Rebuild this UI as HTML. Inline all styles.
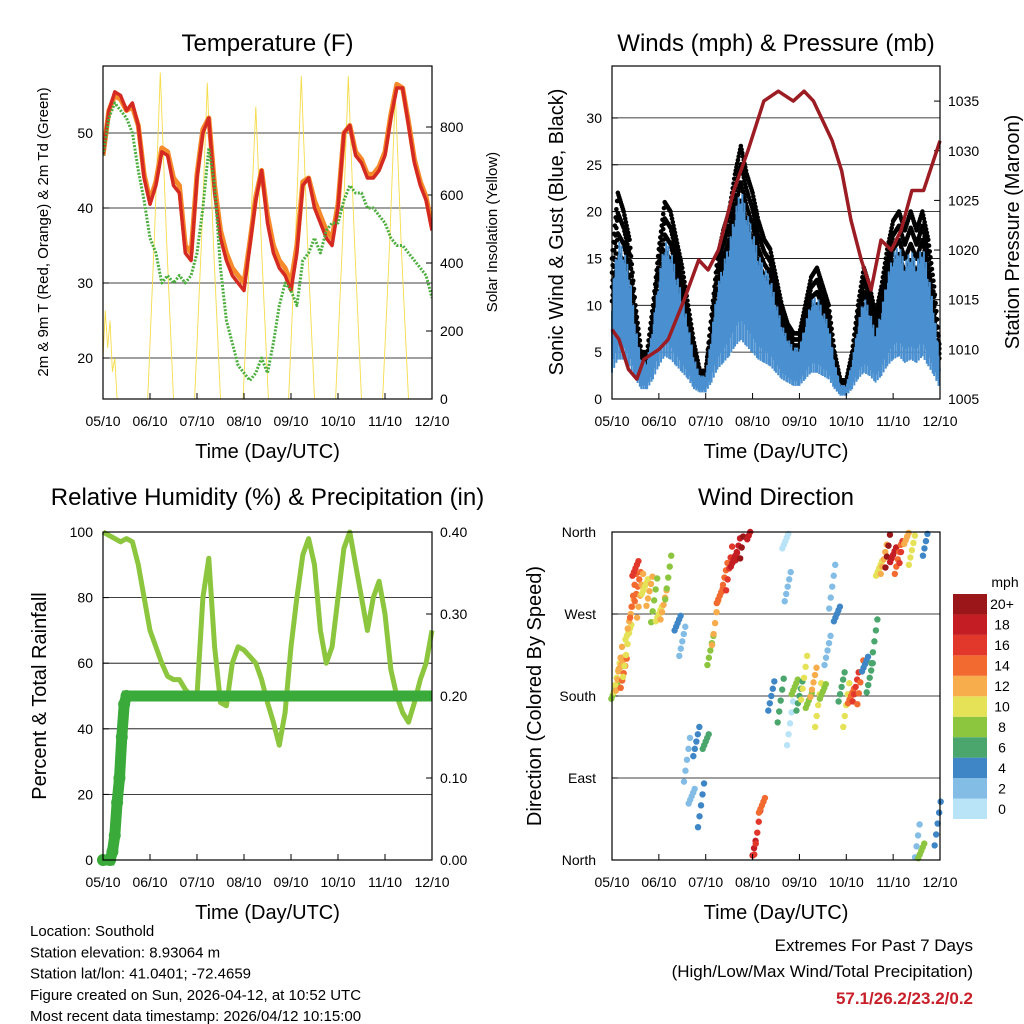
<!DOCTYPE html>
<html><head><meta charset="utf-8"><style>
html,body{margin:0;padding:0;background:#fff;}
svg{display:block;font-family:"Liberation Sans",sans-serif;}
</style></head><body>
<svg id="s" width="1024" height="1024" viewBox="0 0 1024 1024" xmlns="http://www.w3.org/2000/svg"></svg>
<script>
// ---------- DATA ----------
const dayLabels=["05/10","06/10","07/10","08/10","09/10","10/10","11/10","12/10"];
const temp2m=[47,53,55.5,55,53,54,51,44, 40.5,43,47.5,47,43,42,34,33, 44,50,52,42,36,33,31,30, 29,35,41,45,38,34,32,31, 29,34,43,44,40,38,36,35, 40,50,51,47,46,44,44,45, 47,52,56,56,51,46,43,41,37];
const temp9m=[47,53,55,54.5,53,53.5,51,44.5, 41,43.5,48,47.5,44,43,35,34, 44.5,50.5,52,43,37,34,32,31, 30,35.5,41.5,45,39,35,33,32, 30,35,43.5,44,41,39,37,36, 40.5,50,51,47.5,46.5,44.5,44.5,45.5, 47.5,52.5,56.5,56,51.5,46.5,43.5,41.5,37.5];
const dewpt=[47,52,54,53,52,50,45,41, 36,34,30,31,30,31,30,31, 34,40,48,43,32,25,22,19, 18,17,18,20,18,22,27,30, 29,27,33,34,36,34,37,38, 38,41,43,42,42,40,40,39, 38,36,35,35,34,33,32,31,28];
const solarTimes=[0,0.05,0.1,0.15,0.2,0.25,0.3, 0.95,1.1,1.22,1.35,1.5, 1.95,2.1,2.22,2.35,2.5, 2.98,3.12,3.25,3.38,3.52, 3.95,4.1,4.22,4.35,4.5, 4.95,5.1,5.22,5.35,5.5, 5.95,6.1,6.22,6.35,6.5, 7];
const solarVals=[120,260,150,230,80,120,0, 0,500,960,480,0, 0,480,930,460,0, 0,430,860,420,0, 0,490,950,470,0, 0,480,950,470,0, 0,460,900,440,0, 0];
const windMean=[8,12,12,10,6,3,3,6, 10,13,12,10,8,6,3,2, 2,5,9,11,13,16,18,16, 14,12,11,10,8,6,5,4, 4,6,8,8,7,6,3,1, 1,3,6,8,7,5,7,10, 12,13,11,12,11,13,10,7,3];
const windGust=[15,22,20,17,10,5,5,10, 16,21,20,17,14,10,6,3, 3,9,15,18,20,24,27,24, 22,19,17,16,13,10,8,7, 7,10,13,14,12,10,5,2, 2,5,10,14,12,9,12,16, 19,20,18,20,18,20,17,12,5];
const presTimes=[0,0.15,0.35,0.53,0.68,1.0,1.2,1.54,1.85,2.05,2.27,2.6,2.9,3.24,3.55,3.87,4.1,4.3,4.5,4.7,4.9,5.1,5.32,5.53,5.74,5.96,6.17,6.4,6.65,7];
const presVals=[1012,1011,1008,1007,1009,1010,1011,1015,1019,1018,1020,1026,1030,1035,1036,1035,1036,1035,1033,1031,1028,1023,1019,1016,1021,1020,1022,1026,1026,1031];
const rh=[100,99,98,97,98,97,90,80, 70,65,60,56,55,55,52,50, 50,80,92,65,48,47,60,65, 64,62,60,55,48,42,35,45, 65,80,93,98,90,70,60,65, 80,95,100,90,80,70,80,85, 75,58,50,45,42,48,55,60,70];
const precipTimes=[0,0.15,0.2,0.25,0.3,0.35,0.4,0.45,0.5,7];
const precipVals=[0,0,0.01,0.03,0.07,0.1,0.15,0.19,0.2,0.2];
const wdTime=[0.05,0.1,0.15,0.2,0.25,0.3,0.35,0.4,0.45,0.5,0.55,0.6,0.7,0.8,0.9,1.0,1.1,1.2,1.4,1.5,1.6,1.7,1.8,1.9,2.0,2.1,2.2,2.3,2.4,2.5,2.6,2.7,2.8,2.95,3.0,3.1,3.2,3.4,3.6,3.7,3.75,3.8,3.9,4.0,4.1,4.2,4.3,4.4,4.5,4.6,4.7,4.8,4.9,5.0,5.1,5.2,5.3,5.4,5.5,5.6,5.7,5.8,5.9,6.0,6.1,6.2,6.3,6.4,6.5,6.6,6.7,6.95];
const wdDir=[185,200,210,215,205,225,250,270,290,320,300,290,300,295,285,270,280,310,260,240,110,70,130,60,130,230,260,290,310,320,330,345,355,360,5,30,60,180,175,350,300,150,190,180,200,175,195,170,185,230,300,270,190,170,180,190,195,215,200,240,320,330,345,335,330,350,355,340,15,10,350,40];
const wdSpeed=[8,10,12,12,14,10,10,12,14,16,14,12,10,12,8,10,12,8,4,3,2,3,4,5,6,8,12,14,14,16,18,18,20,18,18,16,14,4,6,1,2,1,8,6,10,8,12,10,8,3,2,4,6,10,14,16,14,4,6,6,10,12,20,18,14,16,12,10,2,8,4,4];
const tempTicks=[20,30,40,50];
const solarTicks=[0,200,400,600,800];
const windTicks=[0,5,10,15,20,25,30];
const presTicks=[1005,1010,1015,1020,1025,1030,1035];
const rhTicks=[0,20,40,60,80,100];
const rainTicks=[0,0.1,0.2,0.3,0.4];
const dirTicks=[0,90,180,270,360];
const dirNames=["North","East","South","West","North"];
const cbLabels=["0","2","4","6","8","10","12","14","16","18","20+"];
const cbColors=["#b9e3f7","#83bde6","#3f86c6","#4aa66c","#8cc63f","#e6e257","#f8ad4d","#f26a2f","#e2382c","#c41e24","#9a1618"];

// ---------- HELPERS ----------
const S=document.getElementById('s');
const NS="http://www.w3.org/2000/svg";
function el(tag,at,p){const e=document.createElementNS(NS,tag);for(const k in at)e.setAttribute(k,at[k]);(p||S).appendChild(e);return e;}
function txt(x,y,s,size,anchor,p,extra){const t=el('text',Object.assign({x:x,y:y,'font-size':size,'text-anchor':anchor||'middle',fill:'#000'},extra||{}),p);t.textContent=s;return t;}
function times(n){const a=[];for(let i=0;i<n;i++)a.push(i*7/(n-1));return a;}
const T57=times(57);

function panel(name,x0,x1,y0,y1){
  const g=el('g',{});
  
  
  return {g:g,x0:x0,x1:x1,y0:y0,y1:y1,sx:d=>x0+(x1-x0)*d/7};
}
function frame(P){
  const r=el('rect',{x:P.x0,y:P.y0,width:P.x1-P.x0,height:P.y1-P.y0,fill:'none',stroke:'#000','stroke-width':1.2},P.g);
  
  
}
function xAxis(P){
  const g=el('g',{},P.g);
  
  
  dayLabels.forEach((l,i)=>{
    const x=P.sx(i);
    el('line',{x1:x,x2:x,y1:P.y1,y2:P.y1-6,stroke:'#000'},g);
    const t=txt(x,P.y1+27,l,14,'middle',g);
    
    
  });
  const tt=txt((P.x0+P.x1)/2,P.y1+59,"Time (Day/UTC)",20,'middle',g);
  
  
}
function yAxis(P,ticks,sy,fmt,side,grid,name){
  const g=el('g',{},P.g);
  
  
  ticks.forEach(v=>{
    const y=sy(v);
    if(grid && y>P.y0+2 && y<P.y1-2){el('line',{x1:P.x0,x2:P.x1,y1:y,y2:y,stroke:'#000','stroke-width':0.8},g);}
    if(side==='l'){el('line',{x1:P.x0,x2:P.x0+6,y1:y,y2:y,stroke:'#000'},g);}
    else{el('line',{x1:P.x1,x2:P.x1-6,y1:y,y2:y,stroke:'#000'},g);}
    const t=side==='l'?txt(P.x0-10,y+5,fmt(v),14,'end',g):txt(P.x1+8,y+5,fmt(v),14,'start',g);
    
    
  });
}
function vlabel(x,y,s,size,P,name){
  const t=txt(0,0,s,size,'middle',P.g,{transform:'translate('+x+','+y+') rotate(-90)'});
  
  
}
function title(P,s,off){
  const t=txt((P.x0+P.x1)/2,P.y0-off,s,24,'middle',P.g);
  
  
}
function path(P,xs,ys,sx,sy,attrs,name){
  let d='';xs.forEach((t,i)=>{d+=(i?'L':'M')+sx(t).toFixed(1)+','+sy(ys[i]).toFixed(1);});
  const p=el('path',Object.assign({d:d,fill:'none'},attrs),P.g);
  
  
  return p;
}

// ---------- TEMPERATURE ----------
(function(){
  const P=panel('temperature-panel',103,432,66,399);
  const sy=v=>133+(50-v)*7.5;
  const ss=v=>399-v*0.34;
  el('clipPath',{id:'c1'},P.g).appendChild(el('rect',{x:103,y:66,width:329,height:333}));
  yAxis(P,tempTicks,sy,v=>String(v),'l',true,'temperature-y-axis');
  yAxis(P,solarTicks,ss,v=>String(v),'r',false,'solar-y-axis');
  const gc=el('g',{'clip-path':'url(#c1)'},P.g);
  const Pc=Object.assign({},P,{g:gc});
  path(Pc,solarTimes,solarVals,P.sx,ss,{stroke:'#f5dc4a','stroke-width':0.9},'solar-insolation-line');
  path(Pc,T57,temp9m,P.sx,sy,{stroke:'#f68a2a','stroke-width':5,'stroke-linejoin':'round'},'temp-9m-line');
  path(Pc,T57,temp2m,P.sx,sy,{stroke:'#d42a22','stroke-width':3.5,'stroke-linejoin':'round'},'temp-2m-line');
  path(Pc,T57,dewpt,P.sx,sy,{stroke:'#4bae3c','stroke-width':3,'stroke-dasharray':'2 1.5','stroke-linejoin':'round'},'dewpoint-line');
  frame(P);xAxis(P);title(P,"Temperature (F)",15);
  vlabel(48,232,"2m & 9m T (Red, Orange) & 2m Td (Green)",15,P,'temperature-y-title');
  vlabel(497,232,"Solar Insolation (Yellow)",15,P,'solar-y-title');
})();

// ---------- WINDS ----------
(function(){
  const P=panel('winds-panel',612,940,66,399);
  const sy=v=>399-v*9.37;
  const sp=v=>399-(v-1005)*9.93;
  yAxis(P,windTicks,sy,v=>String(v),'l',true,'wind-y-axis');
  yAxis(P,presTicks,sp,v=>String(v),'r',false,'pressure-y-axis');
  const band=el('g',{},P.g);
  
  
  const blue=el('g',{},P.g);
  
  
  for(let i=0;i<T57.length-1;i++){
    for(let k=0;k<8;k++){
      const f=k/8, t=T57[i]+f*(T57[i+1]-T57[i]);
      const g=windGust[i]+f*(windGust[i+1]-windGust[i]);
      const m=windMean[i]+f*(windMean[i+1]-windMean[i]);
      for(let j=0;j<=3;j++){
        const v=m+(g-m)*(0.35+0.65*((j*3+k)%4)/3);
        el('circle',{cx:P.sx(t),cy:sy(v),r:2.3,fill:'#000'},band);
      }
      const lo=Math.max(0,m*(0.35+0.25*((k*5)%3)/2)), hi=m+(g-m)*(0.2+0.3*(k%3)/2);
      el('line',{x1:P.sx(t),x2:P.sx(t),y1:sy(lo),y2:sy(hi),stroke:'#4a90d0','stroke-width':2},blue);
    }
  }
  path(P,T57,windMean,P.sx,sy,{stroke:'#4a90d0','stroke-width':2,'stroke-linejoin':'round'},'sonic-wind-line');
  path(P,presTimes,presVals,P.sx,sp,{stroke:'#9b1c22','stroke-width':3.5,'stroke-linejoin':'round'},'pressure-line');
  frame(P);xAxis(P);title(P,"Winds (mph) & Pressure (mb)",15);
  vlabel(563,232,"Sonic Wind & Gust (Blue, Black)",20,P,'wind-y-title');
  vlabel(1019,232,"Station Pressure (Maroon)",20,P,'pressure-y-title');
})();

// ---------- RH ----------
(function(){
  const P=panel('humidity-panel',103,432,532,860);
  const sy=v=>860-v*3.28;
  const sr=v=>860-v*820;
  yAxis(P,rhTicks,sy,v=>String(v),'l',true,'rh-y-axis');
  yAxis(P,rainTicks,sr,v=>v.toFixed(2),'r',false,'rain-y-axis');
  path(P,T57,rh,P.sx,sy,{stroke:'#8cc63f','stroke-width':5,'stroke-linejoin':'round'},'humidity-line');
  path(P,precipTimes,precipVals,P.sx,sr,{stroke:'#3aaa3a','stroke-width':11},'precip-line');
  const dots=el('g',{},P.g);
  
  
  precipTimes.slice(0,9).forEach((t,i)=>{el('circle',{cx:P.sx(t),cy:sr(precipVals[i]),r:6,fill:'#3aaa3a'},dots);});
  frame(P);xAxis(P);title(P,"Relative Humidity (%) & Precipitation (in)",27);
  vlabel(46,696,"Percent & Total Rainfall",20,P,'rh-y-title');
})();

// ---------- WIND DIRECTION ----------
(function(){
  const P=panel('wind-direction-panel',612,940,532,860);
  const sy=v=>860-v*328/360;
  const g=el('g',{},P.g);
  
  
  dirTicks.forEach((v,i)=>{
    const y=sy(v);
    if(i>0&&i<4)el('line',{x1:P.x0,x2:P.x1,y1:y,y2:y,stroke:'#000','stroke-width':0.8},g);
    el('line',{x1:P.x0,x2:P.x0+6,y1:y,y2:y,stroke:'#000'},g);
    const t=txt(P.x0-16,y+5,dirNames[i],14,'end',g);
    
    
  });
  const pts=el('g',{},P.g);
  
  
  wdTime.forEach((t,i)=>{
    const c=cbColors[Math.min(10,Math.floor(wdSpeed[i]/2))];
    for(let k=-2;k<=2;k++){
      const d=wdDir[i]+k*4*((i%3)+1);
      if(d<0||d>360)continue;
      el('circle',{cx:P.sx(t)+k*1.5,cy:sy(d),r:3.2,fill:c},pts);
    }
  });
  frame(P);xAxis(P);title(P,"Wind Direction",27);
  vlabel(541,696,"Direction (Colored By Speed)",20,P,'dir-y-title');
  const cb=el('g',{},P.g);
  
  
  const h=225/11;
  cbColors.forEach((c,i)=>{
    const y=819-(i+1)*h;
    el('rect',{x:953,y:y,width:34,height:h,fill:c},cb);
    const t=txt(1002,y+h/2+5,cbLabels[i],14,'middle',cb);
    
    
  });
  const u=txt(1005,587,"mph",14,'middle',cb);
  
  
})();

// ---------- FOOTER ----------
(function(){
  const g=el('g',{});
  
  
  ["Location: Southold","Station elevation: 8.93064 m","Station lat/lon: 41.0401; -72.4659","Figure created on Sun, 2026-04-12, at 10:52 UTC","Most recent data timestamp: 2026/04/12 10:15:00"].forEach((s,i)=>{txt(30,936+i*21.3,s,15,'start',g);});
  const e=el('g',{});
  
  
  txt(973,951,"Extremes For Past 7 Days",17,'end',e);
  txt(973,977,"(High/Low/Max Wind/Total Precipitation)",17,'end',e);
  txt(973,1004,"57.1/26.2/23.2/0.2",17,'end',e,{fill:'#c8202a','font-weight':'bold'});
})();
</script>
</body></html>
